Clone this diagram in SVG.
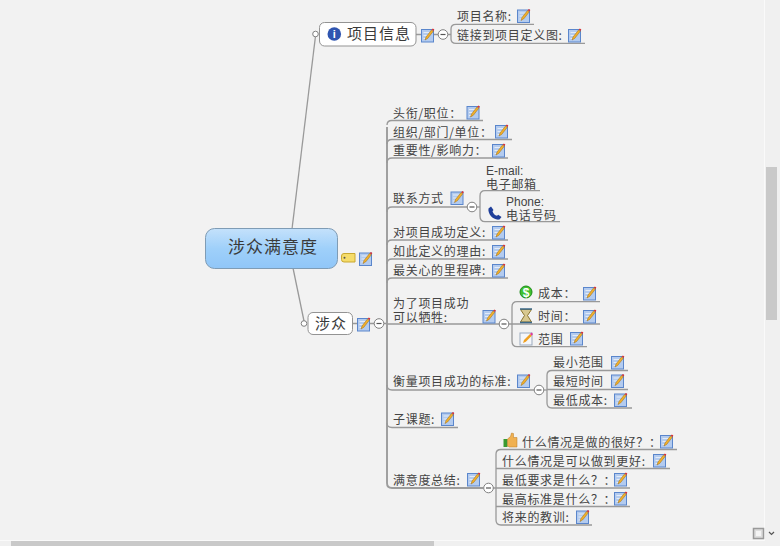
<svg xmlns="http://www.w3.org/2000/svg" width="780" height="546" viewBox="0 0 780 546">
<style>
text{font-family:"Noto Sans CJK SC","Liberation Sans",sans-serif;font-size:12px;fill:#444;letter-spacing:.7px}
.lat{font-family:"Liberation Sans","Noto Sans CJK SC",sans-serif;letter-spacing:0}
.ln{fill:none;stroke:#999;stroke-width:1.3}
.tr{fill:none;stroke:#9c9c9c;stroke-width:1.9}
.node{fill:#fff;stroke:#939393;stroke-width:1}
.c{fill:#fff;stroke:#808080;stroke-width:1}
.m{stroke:#555;stroke-width:1.2;fill:none}
.big{font-size:15px;letter-spacing:1px;fill:#3a3a3a}
</style>
<defs>
<linearGradient id="rg" x1="0" y1="0" x2="0" y2="1"><stop offset="0" stop-color="#c4e1fb"/><stop offset=".5" stop-color="#9fd0fa"/><stop offset="1" stop-color="#90c6f8"/></linearGradient>
<g id="note"><rect x=".5" y="1" width="12" height="12.500" fill="#b3cbef" stroke="#5a86cc"/><path d="M2.500 4h7M2.500 7h5M2.500 10h4" stroke="#e3ebf7" stroke-width="1"/><path d="M4 11.500l1-3 5.500-7 1.800 1.300-5.500 7z" fill="#f2b02a" stroke="#9a6a14" stroke-width=".5"/><path d="M10.800 1.300l1-1.300 1.500 1-.8 1.500z" fill="#e03030"/></g>
<g id="minus"><circle r="4.800" class="c"/><path d="M-2.500 0H2.500" class="m"/></g>
</defs>
<rect width="780" height="546" fill="#f2f2f2"/>
<rect x="765" y="0" width="15" height="546" fill="#f0f0f0"/>
<rect x="766" y="167" width="11" height="153" fill="#c9c9c9"/>
<rect x="0" y="541" width="780" height="5" fill="#f0f0f0"/>
<rect x="11" y="541" width="423" height="5" fill="#c9c9c9"/>
<path d="M764.500 0V540.500H0" fill="none" stroke="#fafafa"/>
<rect x="753.500" y="528.500" width="10" height="10" fill="#ddd" stroke="#999" stroke-width="1.500"/>
<rect x="756" y="531" width="5" height="5" fill="#f4f4f4"/>
<path d="M769 532l2.500 2.500 2.500-2.500" fill="none" stroke="#555" stroke-width="1.200"/>

<g id="connectors">
<path class="ln" d="M292 229L315.500 36"/>
<path class="ln" d="M293 268L304 321"/>
<path class="ln" d="M416 34.500H421M434 34.500H438M448 34.500H451"/>
<path class="ln" d="M534 24.300H456Q451 24.300 451 29V39Q451 43.300 456 43.300H585"/>
<path class="ln" d="M353 323.500H357M370 323.500H374M384 323.500H387"/>
<path class="tr" d="M387 127V483Q387 488 392 488H483.500"/>
<path class="ln" d="M483 120.500H392Q387 120.500 387 125M512 139.500H392Q387 139.500 387 144M508 158H392Q387 158 387 163M467.500 207H392Q387 207 387 212M508 240H392Q387 240 387 245M508 259H392Q387 259 387 264M508 278H392Q387 278 387 283M499.500 324H387M534.500 390H392Q387 390 387 385M458 427.500H392Q387 427.500 387 423"/>
<path class="ln" d="M476.500 207H480"/>
<path class="ln" d="M540 190.700H485Q480 190.700 480 196V216Q480 221.700 485 221.700H560"/>
<path class="ln" d="M600 301.700H517Q512 301.700 512 307V341Q512 346.700 517 346.700H587M508.500 324H600"/>
<path class="ln" d="M543.500 390H547"/>
<path class="ln" d="M628 370.500H552Q547 370.500 547 375V403Q547 408 552 408H632M547 389.500H628"/>
<path class="ln" d="M493 488H630"/>
<path class="ln" d="M677 449.500H501Q496 449.500 496 454V520Q496 525 501 525H592M670 468.500H496M630 506.500H496"/>
</g>

<g id="root"><rect x="205.500" y="228.500" width="132" height="40" rx="9" fill="url(#rg)" stroke="#7f9cb5"/><text x="228" y="253" style="font-size:17px;letter-spacing:1px;fill:#3a3a3a">涉众满意度</text></g>
<g id="tag"><path d="M341.500 256q0-2.500 2.500-2.500h11v8.500h-11q-2.500 0-2.500-2.500z" fill="#f5dc6a" stroke="#c9a830"/><circle cx="344.500" cy="257.800" r="1" fill="#555"/><use href="#note" x="359" y="252"/></g>

<g id="xmxx"><circle cx="315.500" cy="34" r="2.800" class="c"/><rect x="319.500" y="22.500" width="96.500" height="23.500" rx="5" class="node"/>
<circle cx="334.300" cy="34" r="6.800" fill="#2f55b0"/><text class="lat" x="334.300" y="38" text-anchor="middle" style="font-size:11px;font-weight:bold;fill:#fff">i</text><text class="big" x="347" y="39">项目信息</text><use href="#note" x="421" y="28.500"/><use href="#minus" x="443" y="34.500"/></g>
<g id="n1"><text x="457" y="21">项目名称:</text><use href="#note" x="517" y="9"/></g>
<g id="n2"><text x="457" y="40">链接到项目定义图:</text><use href="#note" x="568" y="28.500"/></g>

<g id="sz"><circle cx="304" cy="323.500" r="2.800" class="c"/><rect x="308" y="312.500" width="44.500" height="22" rx="5" class="node"/><text class="big" x="315" y="328.500">涉众</text><use href="#note" x="357" y="317.500"/><use href="#minus" x="379" y="323.500"/></g>

<g id="a1"><text x="393" y="118">头衔/职位：</text><use href="#note" x="466.500" y="105.500"/></g>
<g id="a2"><text x="393" y="136.500">组织/部门/单位：</text><use href="#note" x="495" y="124.500"/></g>
<g id="a3"><text x="393" y="155">重要性/影响力：</text><use href="#note" x="492" y="143.500"/></g>
<g id="a4"><text x="393" y="203">联系方式</text><use href="#note" x="450.500" y="191"/><use href="#minus" x="472" y="207"/></g>
<g id="a41"><text><tspan class="lat" x="486" y="174.500">E-mail:</tspan><tspan x="486" y="188.500">电子邮箱</tspan></text></g>
<g id="a42"><path d="M488.500 208.500l2.500-2 2.500 3.500-1 1.200c.6 2.300 2.300 4 4.500 4.600l1.200-1 3.300 2.300-2 2.400c-6 1.200-12-5.500-11-11z" fill="#1f3f9a"/><text><tspan class="lat" x="506" y="206">Phone:</tspan><tspan x="506" y="219.500">电话号码</tspan></text></g>
<g id="a5"><text x="393" y="237">对项目成功定义:</text><use href="#note" x="492" y="225.500"/></g>
<g id="a6"><text x="393" y="256">如此定义的理由:</text><use href="#note" x="492" y="244.500"/></g>
<g id="a7"><text x="393" y="275">最关心的里程碑:</text><use href="#note" x="492" y="263.500"/></g>
<g id="a8"><text><tspan x="393" y="308">为了项目成功</tspan><tspan x="393" y="321.500">可以牺牲:</tspan></text><use href="#note" x="482.500" y="309.500"/><use href="#minus" x="504" y="324"/></g>
<g id="b1"><circle cx="526" cy="292" r="6" fill="#3fc12f" stroke="#1d8a1a"/><text class="lat" x="526" y="296.500" text-anchor="middle" style="font-size:12px;font-weight:bold;fill:#fff">$</text><text x="538" y="298">成本：</text><use href="#note" x="583" y="286.500"/></g>
<g id="b2"><path d="M520.500 309.500h11l-4 6 4 6.500h-11l4-6.500z" fill="#d8c890" stroke="#8a7430"/><path d="M520 309h12M520 322.500h12" stroke="#3c6a8a" stroke-width="1.500"/><text x="538" y="321">时间：</text><use href="#note" x="583" y="309.500"/></g>
<g id="b3"><rect x="520" y="333" width="12" height="12" fill="#f4f6fa" stroke="#9aa9bd"/><path d="M523 343l1-3 6-6 1.800 1.800-6 6z" fill="#f0a020"/><path d="M530 334l1.500-1.500 1.500 1.500-1.200 1.800z" fill="#e0389a"/><text x="538" y="343.500">范围</text><use href="#note" x="570" y="331.500"/></g>
<g id="a9"><text x="393" y="386">衡量项目成功的标准:</text><use href="#note" x="517" y="374"/><use href="#minus" x="539" y="390"/></g>
<g id="c1"><text x="553" y="367">最小范围</text><use href="#note" x="611" y="355.500"/></g>
<g id="c2"><text x="553" y="386">最短时间</text><use href="#note" x="611" y="374"/></g>
<g id="c3"><text x="553" y="405">最低成本:</text><use href="#note" x="614" y="393"/></g>
<g id="a10"><text x="393" y="424">子课题:</text><use href="#note" x="441" y="412"/></g>
<g id="a11"><text x="393" y="484.500">满意度总结:</text><use href="#note" x="467" y="472.500"/><use href="#minus" x="488.500" y="488"/></g>
<g id="d1"><rect x="503.500" y="439" width="4" height="8" fill="#3a9a30"/><path d="M507.500 439l3-2.500 1-3.500 2 .5v4h3.500v9.500h-7.500l-2-1z" fill="#f0b050" stroke="#b87a20" stroke-width=".5"/><text x="522" y="446.500">什么情况是做的很好？：</text><use href="#note" x="660" y="434.500"/></g>
<g id="d2"><text x="502" y="465.500">什么情况是可以做到更好:</text><use href="#note" x="653" y="453.500"/></g>
<g id="d3"><text x="502" y="484.500">最低要求是什么？：</text><use href="#note" x="614" y="472.500"/></g>
<g id="d4"><text x="502" y="503.500">最高标准是什么？：</text><use href="#note" x="614" y="491.500"/></g>
<g id="d5"><text x="502" y="522">将来的教训:</text><use href="#note" x="576" y="510"/></g>
</svg>
